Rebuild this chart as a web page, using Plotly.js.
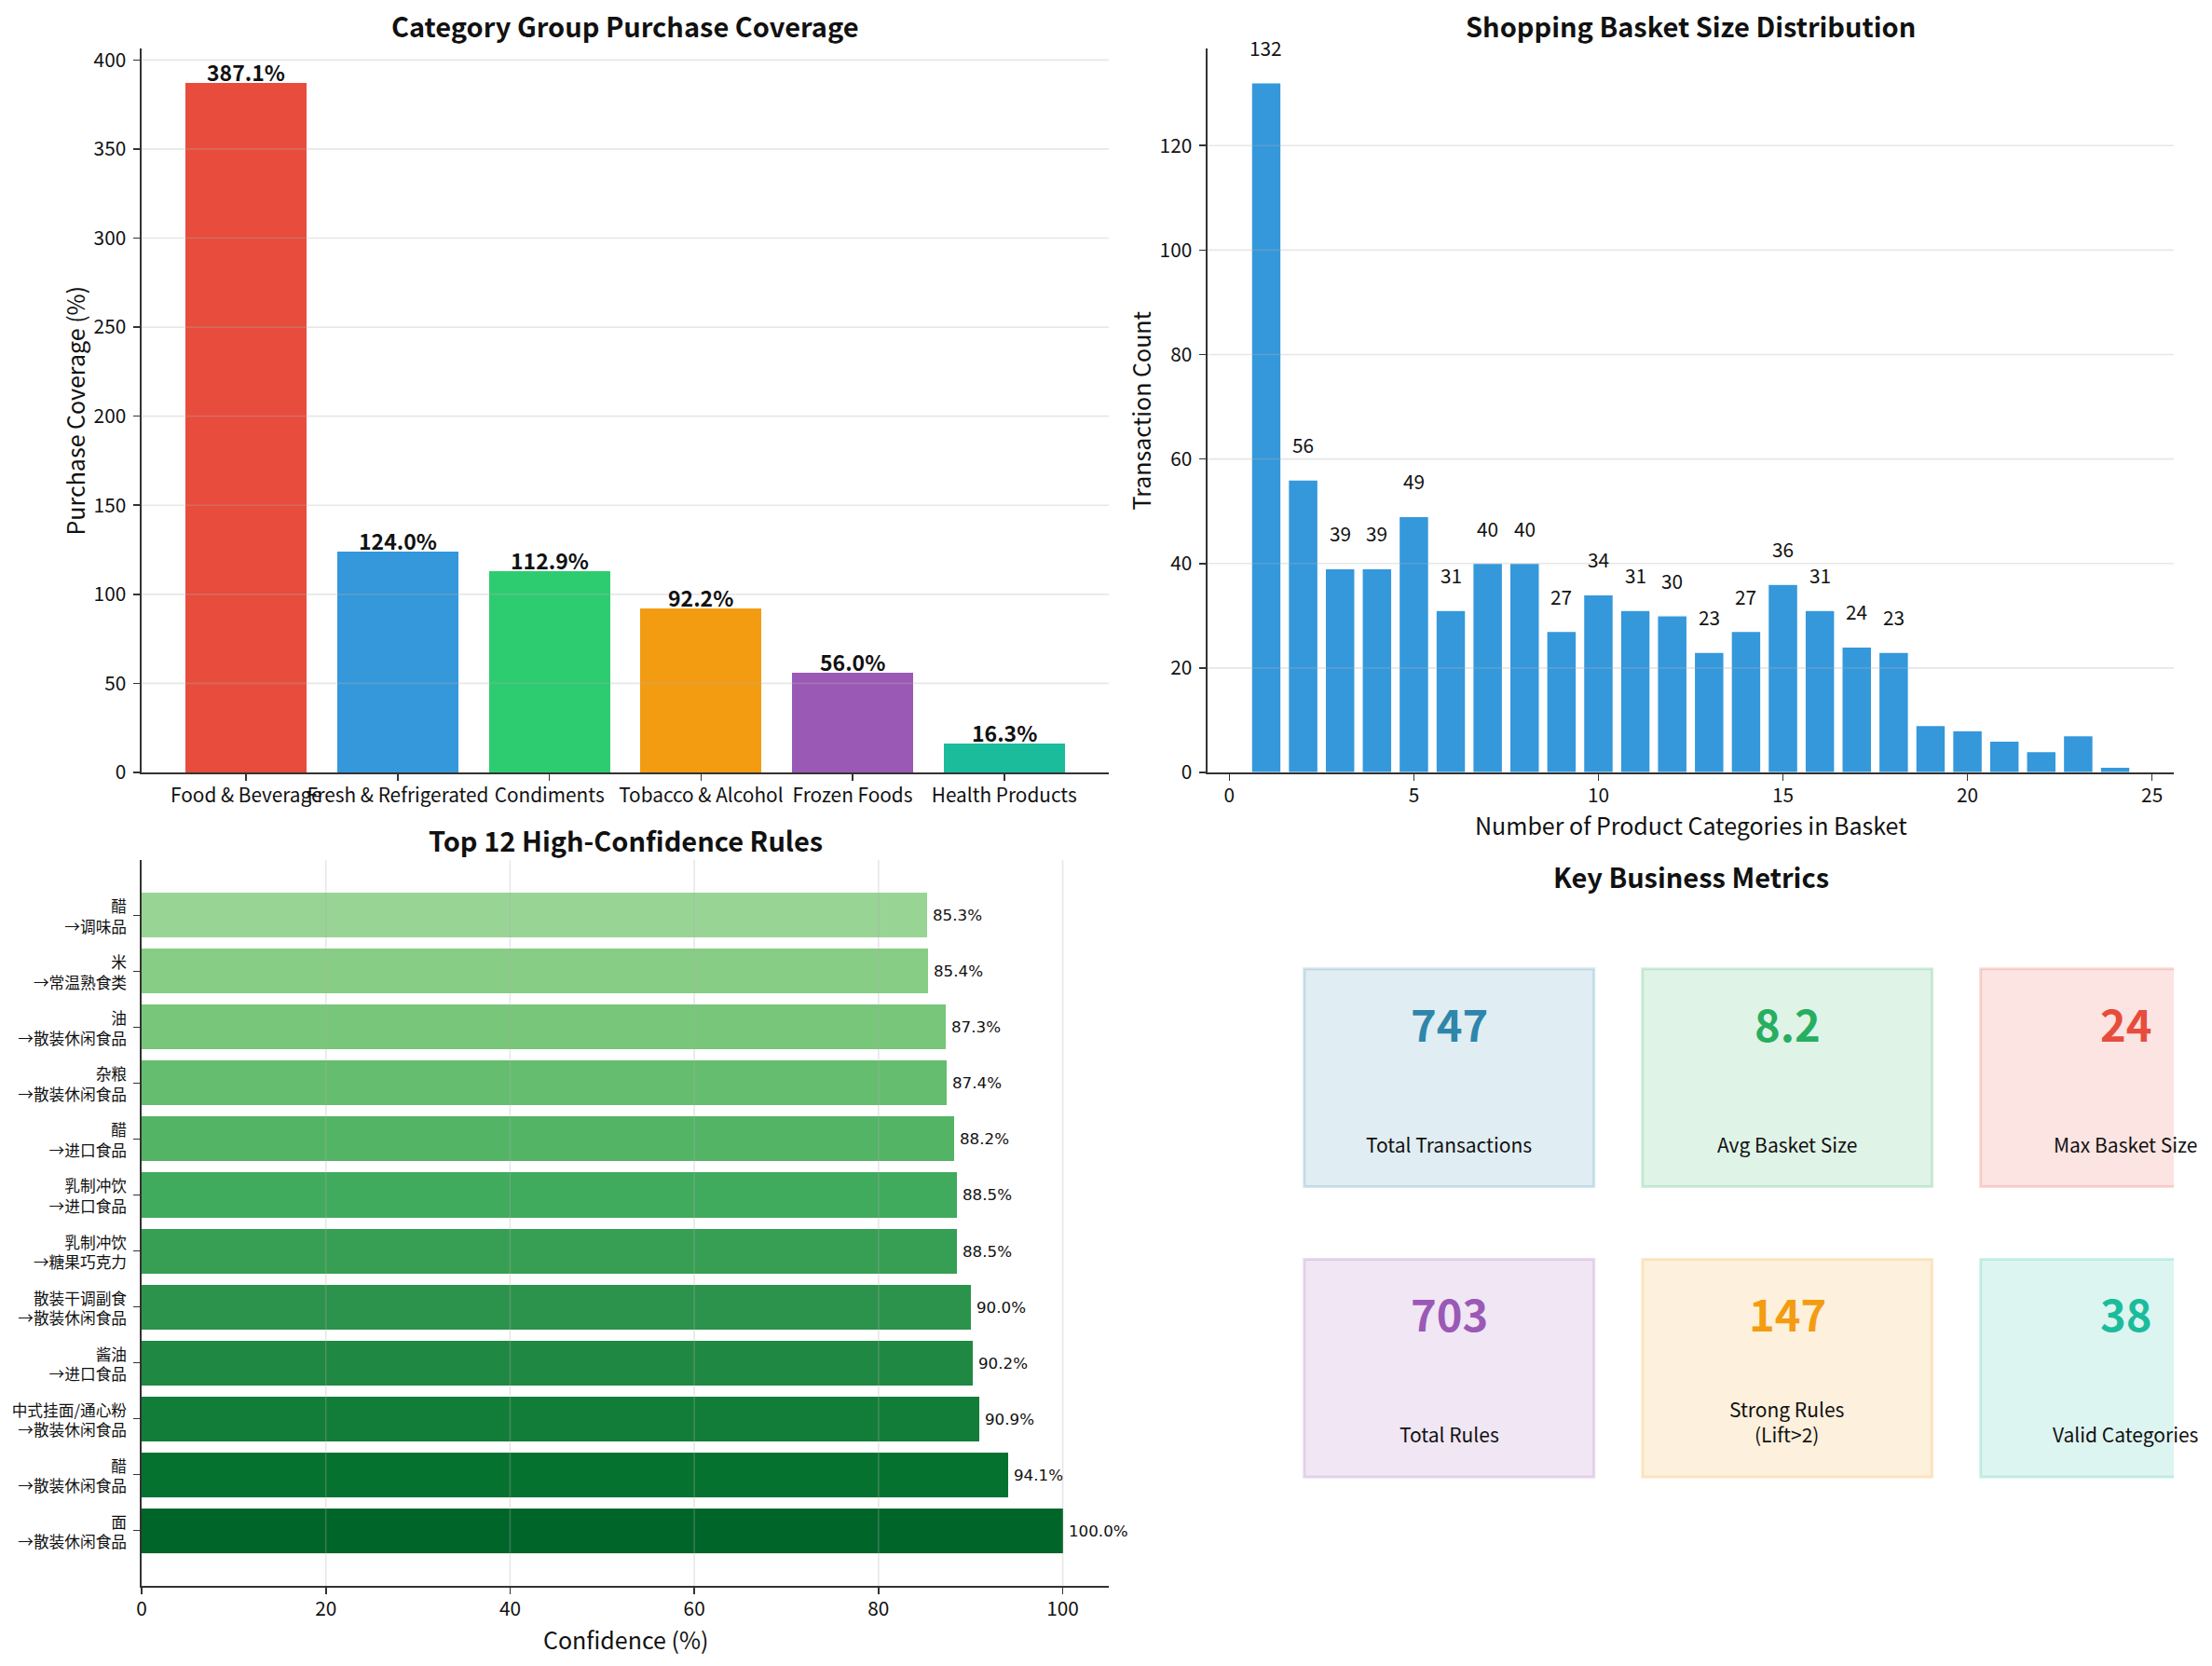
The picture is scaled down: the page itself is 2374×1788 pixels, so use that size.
<!DOCTYPE html>
<html>
<head>
<meta charset="utf-8">
<script src="https://cdn.plot.ly/plotly-3.0.1.min.js"></script>
<style>html,body{margin:0;padding:0;background:#fff;}#chart{width:2374px;height:1788px;}</style>
</head>
<body>
<div id="chart"></div>
<script>
// ---------------- DATA ----------------
const categories = ['Food & Beverage', 'Fresh & Refrigerated', 'Condiments', 'Tobacco & Alcohol', 'Frozen Foods', 'Health Products'];
const coverage = [387.1, 124.0, 112.9, 92.2, 56.0, 16.3];

const basketSizes = [1, 2, 3, 4, 5, 6, 7, 8, 9, 10, 11, 12, 13, 14, 15, 16, 17, 18, 19, 20, 21, 22, 23, 24];
const basketCounts = [132, 56, 39, 39, 49, 31, 40, 40, 27, 34, 31, 30, 23, 27, 36, 31, 24, 23, 9, 8, 6, 4, 7, 1];

// rules listed from bottom bar to top bar
const ruleAntecedents = ['面', '醋', '中式挂面/通心粉', '酱油', '散装干调副食', '乳制冲饮', '乳制冲饮', '醋', '杂粮', '油', '米', '醋'];
const ruleConsequents = ['散装休闲食品', '散装休闲食品', '散装休闲食品', '进口食品', '散装休闲食品', '糖果巧克力', '进口食品', '进口食品', '散装休闲食品', '散装休闲食品', '常温熟食类', '调味品'];
const ruleConfidence = [100.0, 94.1, 90.9, 90.2, 90.0, 88.5, 88.5, 88.2, 87.4, 87.3, 85.4, 85.3];

const metricValues = ['747', '8.2', '24', '703', '147', '38'];
const metricLabels = ['Total Transactions', 'Avg Basket Size', 'Max Basket Size', 'Total Rules', 'Strong Rules<br>(Lift>2)', 'Valid Categories'];

// ---------------- STYLE ----------------
const categoryColors = ['#e74c3c', '#3498db', '#2ecc71', '#f39c12', '#9b59b6', '#1abc9c'];
const ruleColors = ['#006529', '#067230', '#127d39', '#1f8842', '#2b934b', '#369f54', '#40aa5d', '#53b466', '#65bd6f', '#77c679', '#88cd86', '#98d594'];
const metricColors = ['#2e86ab', '#27ae60', '#e74c3c', '#9b59b6', '#f39c12', '#1abc9c'];
const metricBoxX = [0.1, 0.45, 0.8, 0.1, 0.45, 0.8];
const metricBoxY = [0.55, 0.55, 0.55, 0.15, 0.15, 0.15];
const BOX = 0.3;

const F = '"Noto Sans CJK SC", "Source Sans Pro", "Noto Sans", sans-serif';
const FD = '"DejaVu Sans", sans-serif';
const W = 2374, H = 1788;
const px = v => v / W;
const py = v => 1 - v / H;
const TXT = '#111111';
const AX = '#333333';
const GRID = 'rgba(176,176,176,0.3)';

function hexA(hex, a) {
  const n = parseInt(hex.slice(1), 16);
  return 'rgba(' + ((n >> 16) & 255) + ',' + ((n >> 8) & 255) + ',' + (n & 255) + ',' + a + ')';
}

const catIdx = categories.map((_, i) => i);
const ruleIdx = ruleConfidence.map((_, i) => i);

// matplotlib-like limits
const covMax = Math.max(...coverage) * 1.05;
const cntMax = Math.max(...basketCounts) * 1.05;
const bMin = Math.min(...basketSizes) - 0.4, bMax = Math.max(...basketSizes) + 0.4;
const bPad = (bMax - bMin) * 0.05;
const cPad = ((categories.length - 1) + 0.8) * 0.05;
const rPad = ((ruleIdx.length - 1) + 0.8) * 0.05;
const confMax = Math.max(...ruleConfidence) * 1.05;

const traces = [
  {
    type: 'bar', x: catIdx, y: coverage, width: 0.8,
    marker: {color: categoryColors},
    xaxis: 'x', yaxis: 'y', hoverinfo: 'none'
  },
  {
    type: 'bar', x: basketSizes, y: basketCounts, width: 0.8,
    marker: {color: '#3498db', line: {color: '#ffffff', width: 1.2}},
    xaxis: 'x2', yaxis: 'y2', hoverinfo: 'none'
  },
  {
    type: 'bar', orientation: 'h', x: ruleConfidence, y: ruleIdx, width: 0.8,
    marker: {color: ruleColors},
    xaxis: 'x3', yaxis: 'y3', hoverinfo: 'none'
  }
];

const dx1 = [px(152), px(1190)];
const dx2 = [px(1296), px(2333)];
const dyTop = [py(829), py(52)];
const dyBot = [py(1702), py(923)];

const baseAxis = {
  showline: true, linecolor: AX, linewidth: 1.6,
  ticks: 'outside', ticklen: 7, tickwidth: 1.6, tickcolor: AX,
  showgrid: false, zeroline: false, fixedrange: true,
  tickfont: {family: F, size: 20.8, color: TXT},
  ticklabelstandoff: 4
};
const xAxisExtra = {ticklabelstandoff: -2};

const layout = {
  width: W, height: H,
  margin: {l: 0, r: 0, t: 0, b: 0},
  paper_bgcolor: '#ffffff', plot_bgcolor: '#ffffff',
  showlegend: false, bargap: 0,
  font: {family: F, color: TXT},
  xaxis: Object.assign({}, baseAxis, xAxisExtra, {
    domain: dx1, anchor: 'y', range: [-0.4 - cPad, categories.length - 1 + 0.4 + cPad],
    tickmode: 'array', tickvals: catIdx, ticktext: categories, tickangle: 0
  }),
  yaxis: Object.assign({}, baseAxis, {
    domain: dyTop, anchor: 'x', range: [0, covMax], dtick: 50, tick0: 0
  }),
  xaxis2: Object.assign({}, baseAxis, xAxisExtra, {
    domain: dx2, anchor: 'y2', range: [bMin - bPad, bMax + bPad], dtick: 5, tick0: 0
  }),
  yaxis2: Object.assign({}, baseAxis, {
    domain: dyTop, anchor: 'x2', range: [0, cntMax], dtick: 20, tick0: 0
  }),
  xaxis3: Object.assign({}, baseAxis, xAxisExtra, {
    domain: dx1, anchor: 'y3', range: [0, confMax], dtick: 20, tick0: 0
  }),
  yaxis3: Object.assign({}, baseAxis, {
    domain: dyBot, anchor: 'x3', range: [-0.4 - rPad, ruleIdx.length - 1 + 0.4 + rPad],
    tickmode: 'array', tickvals: ruleIdx,
    ticktext: ruleAntecedents.map((a, i) => a + '<br>→' + ruleConsequents[i]),
    tickfont: {family: F, size: 16.7, color: TXT},
    ticklabelshift: 2
  }),
  xaxis4: {domain: dx2, anchor: 'y4', range: [0, 1], visible: false, fixedrange: true},
  yaxis4: {domain: dyBot, anchor: 'x4', range: [0, 1], visible: false, fixedrange: true},
  shapes: [],
  annotations: []
};

// grid lines (drawn over bars like matplotlib)
for (let v = 50; v <= covMax; v += 50) {
  layout.shapes.push({type: 'line', xref: 'x domain', yref: 'y', x0: 0, x1: 1, y0: v, y1: v, line: {color: GRID, width: 1.6}, layer: 'above'});
}
for (let v = 20; v <= cntMax; v += 20) {
  layout.shapes.push({type: 'line', xref: 'x2 domain', yref: 'y2', x0: 0, x1: 1, y0: v, y1: v, line: {color: GRID, width: 1.6}, layer: 'above'});
}
for (let v = 20; v <= confMax; v += 20) {
  layout.shapes.push({type: 'line', xref: 'x3', yref: 'y3 domain', x0: v, x1: v, y0: 0, y1: 1, line: {color: GRID, width: 1.6}, layer: 'above'});
}

// metric boxes (clipped to panel)
metricValues.forEach((v, i) => {
  const c = metricColors[i];
  layout.shapes.push({
    type: 'rect', xref: 'x4', yref: 'y4',
    x0: metricBoxX[i], x1: metricBoxX[i] + BOX, y0: metricBoxY[i], y1: metricBoxY[i] + BOX,
    fillcolor: hexA(c, 0.15), line: {color: hexA(c, 0.2), width: 3}, layer: 'below'
  });
  layout.annotations.push({
    xref: 'x4', yref: 'y4', x: metricBoxX[i] + BOX / 2, y: metricBoxY[i] + 0.22,
    text: '<b>' + v + '</b>', showarrow: false, xanchor: 'center', yanchor: 'middle', yshift: 5,
    font: {family: F, size: 47, color: c, weight: 'bold'}
  });
  layout.annotations.push({
    xref: 'x4', yref: 'y4', x: metricBoxX[i] + BOX / 2, y: metricBoxY[i] + 0.05,
    text: metricLabels[i], showarrow: false, xanchor: 'center', yanchor: 'bottom', yshift: -10,
    font: {family: F, size: 21, color: TXT}
  });
});

// bar value labels
coverage.forEach((v, i) => {
  layout.annotations.push({
    xref: 'x', yref: 'y', x: i, y: v, text: '<b>' + v.toFixed(1) + '%</b>',
    showarrow: false, xanchor: 'center', yanchor: 'bottom', borderpad: 0, yshift: -6,
    font: {family: F, size: 23, color: TXT, weight: 'bold'}
  });
});
basketCounts.forEach((v, i) => {
  if (v > 10) {
    layout.annotations.push({
      xref: 'x2', yref: 'y2', x: basketSizes[i], y: v + 5, text: String(v),
      showarrow: false, xanchor: 'center', yanchor: 'bottom', borderpad: 0, yshift: -6,
      font: {family: F, size: 20.8, color: TXT}
    });
  }
});
ruleConfidence.forEach((v, i) => {
  layout.annotations.push({
    xref: 'x3', yref: 'y3', x: v + 0.5, y: i, text: v.toFixed(1) + '%',
    showarrow: false, xanchor: 'left', yanchor: 'middle', borderpad: 0,
    font: {family: FD, size: 16.7, color: TXT}
  });
});

// titles and axis titles
const titles = [
  ['Category Group Purchase Coverage', (152 + 1190) / 2, 27],
  ['Shopping Basket Size Distribution', (1296 + 2333) / 2, 27],
  ['Top 12 High-Confidence Rules', (152 + 1190) / 2, 901],
  ['Key Business Metrics', (1296 + 2333) / 2, 940]
];
titles.forEach(t => layout.annotations.push({
  xref: 'paper', yref: 'paper', x: px(t[1]), y: py(t[2]), text: '<b>' + t[0] + '</b>',
  showarrow: false, xanchor: 'center', yanchor: 'middle',
  font: {family: F, size: 29, color: TXT, weight: 'bold'}
}));
const axisTitles = [
  ['Purchase Coverage (%)', 79, (52 + 829) / 2, -90],
  ['Transaction Count', 1223, (52 + 829) / 2, -90],
  ['Number of Product Categories in Basket', (1296 + 2333) / 2, 885, 0],
  ['Confidence (%)', (152 + 1190) / 2, 1759, 0]
];
axisTitles.forEach(t => layout.annotations.push({
  xref: 'paper', yref: 'paper', x: px(t[1]), y: py(t[2]), text: t[0], textangle: t[3],
  showarrow: false, xanchor: 'center', yanchor: 'middle',
  font: {family: F, size: 25, color: TXT}
}));

Plotly.newPlot('chart', traces, layout, {staticPlot: true, displayModeBar: false});
</script>
</body>
</html>
